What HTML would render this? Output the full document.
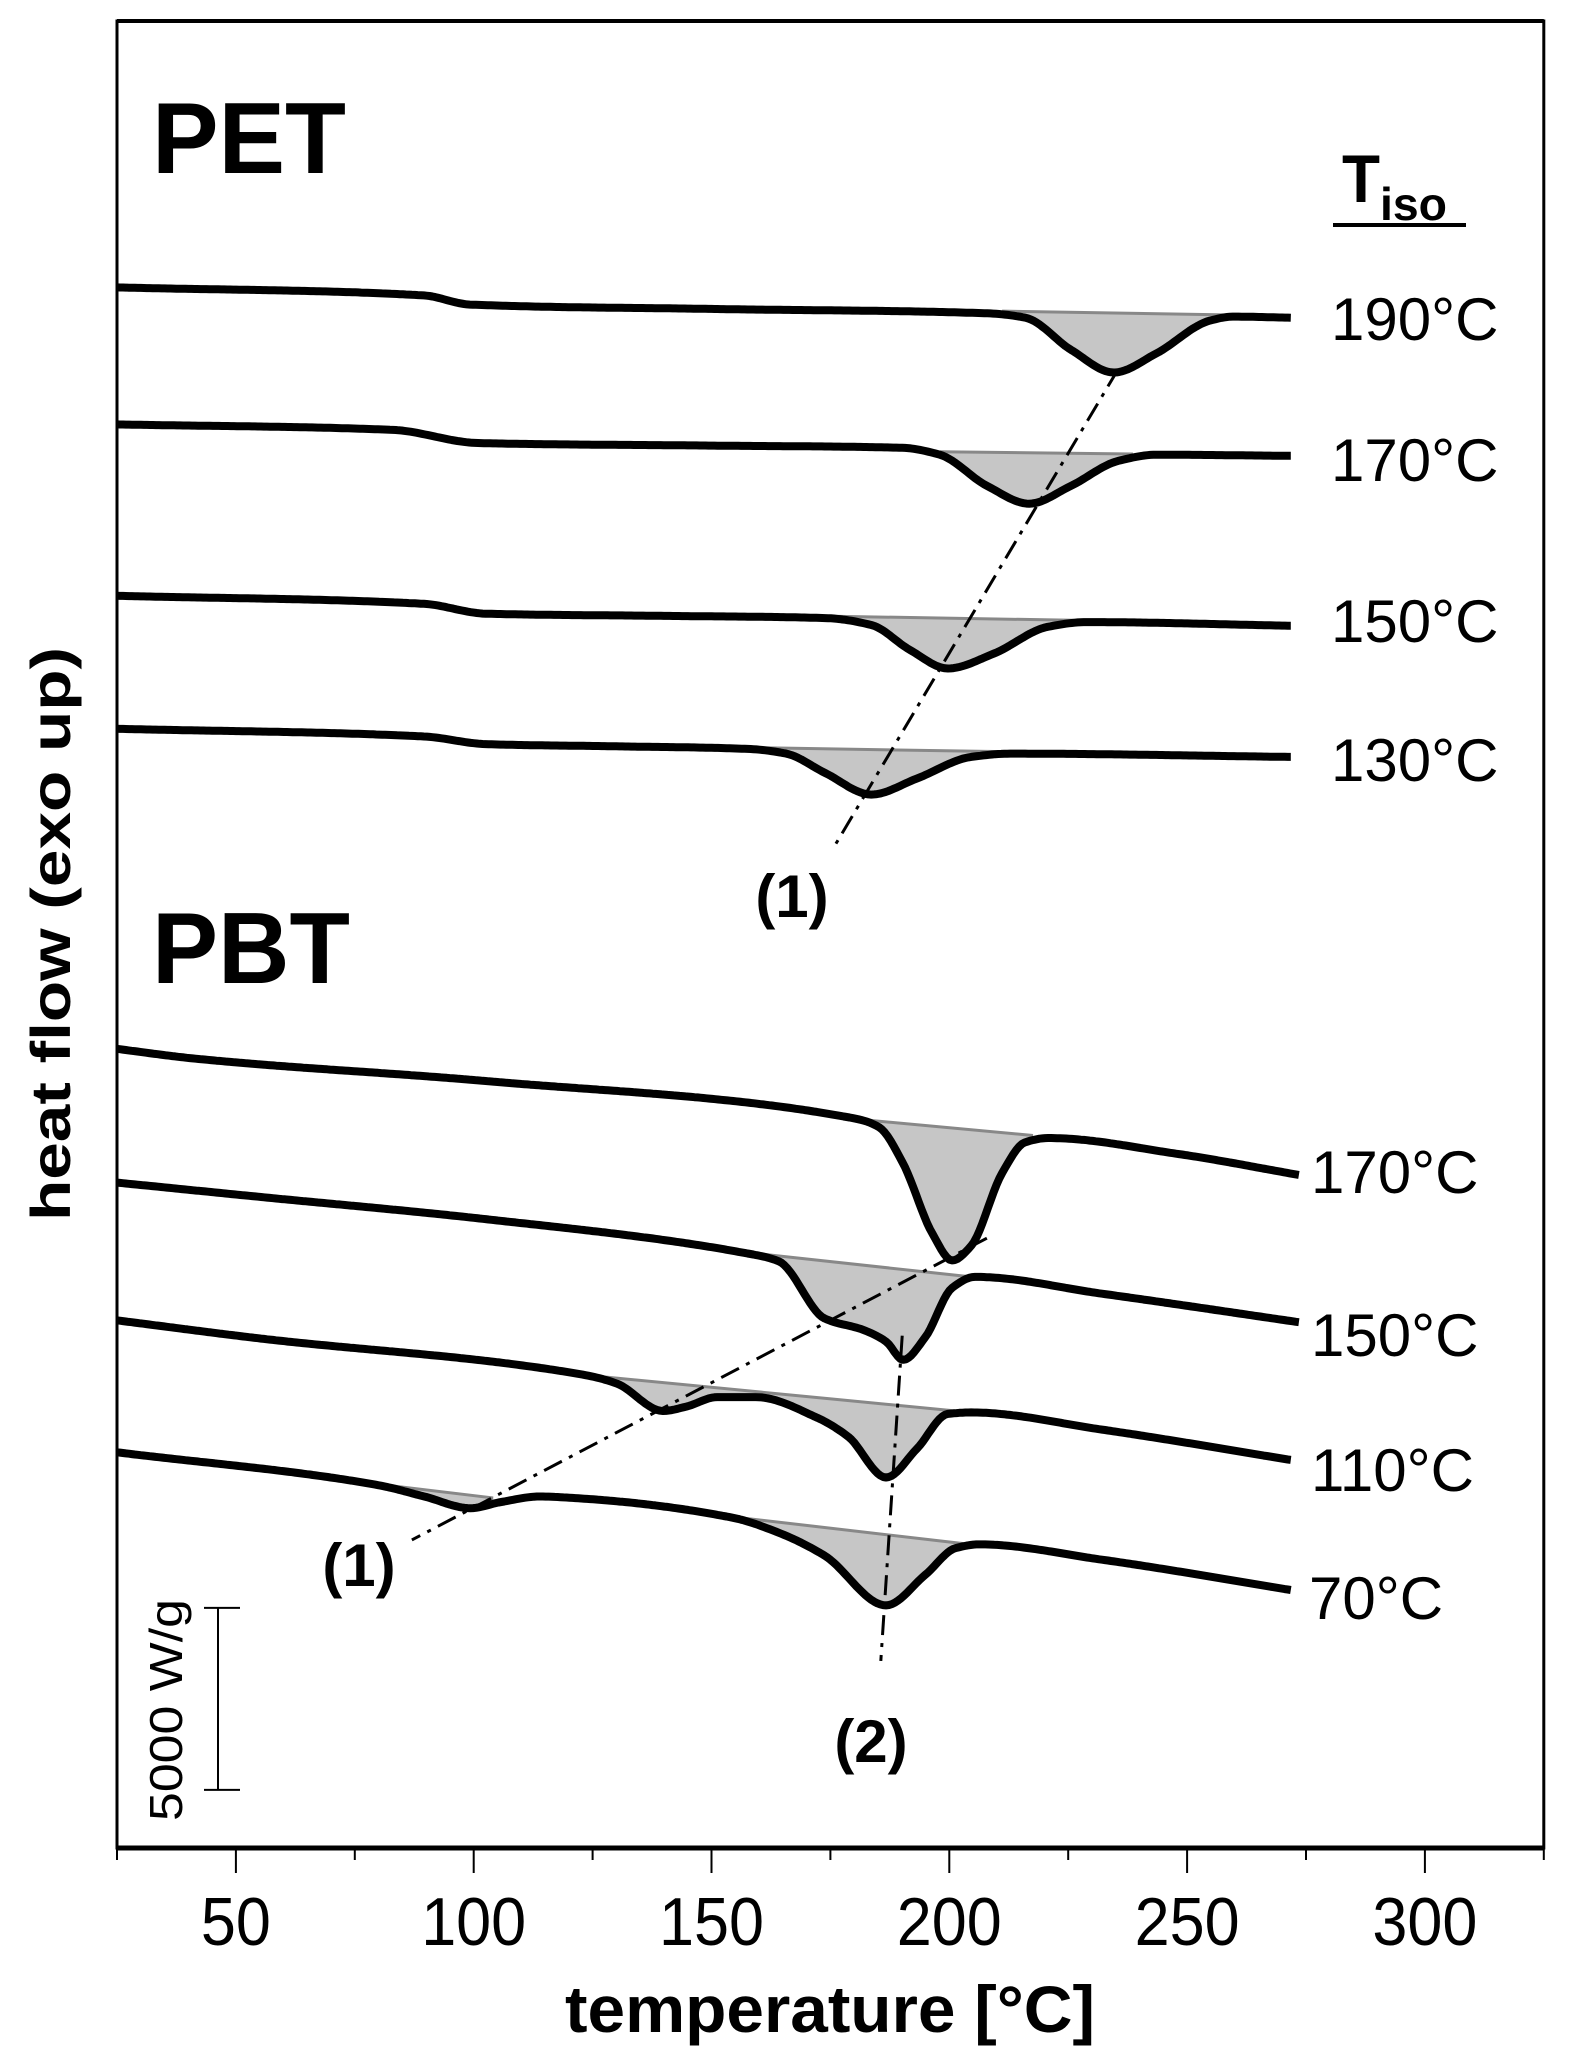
<!DOCTYPE html>
<html><head><meta charset="utf-8"><style>
html,body{margin:0;padding:0;background:#fff;}
svg{display:block;font-family:"Liberation Sans",Arial,sans-serif;}
</style></head><body>
<svg id="chart" width="1569" height="2070" viewBox="0 0 1569 2070" xmlns="http://www.w3.org/2000/svg">
<rect x="0" y="0" width="1569" height="2070" fill="#fff"/>
<g id="plot"></g>
<g id="labels">
<text x="152" y="173" font-size="101" font-weight="bold" textLength="194" lengthAdjust="spacingAndGlyphs">PET</text>
<text x="152" y="983" font-size="101" font-weight="bold" textLength="198" lengthAdjust="spacingAndGlyphs">PBT</text>
<text x="1342" y="202" font-size="68" font-weight="bold" textLength="38" lengthAdjust="spacingAndGlyphs">T</text>
<text x="1380" y="220" font-size="46" font-weight="bold" textLength="67" lengthAdjust="spacingAndGlyphs">iso</text>
<line x1="1333" y1="225" x2="1466" y2="225" stroke="#000" stroke-width="4"/>
<text x="565" y="2032" font-size="66" font-weight="bold" textLength="530" lengthAdjust="spacingAndGlyphs">temperature [°C]</text>
<text transform="translate(70,934) rotate(-90)" text-anchor="middle" font-size="56" font-weight="bold" textLength="574" lengthAdjust="spacingAndGlyphs">heat flow (exo up)</text>
<text transform="translate(182,1710) rotate(-90)" text-anchor="middle" font-size="46" textLength="222" lengthAdjust="spacingAndGlyphs">5000 W/g</text>
</g>
</svg>
<script>
// axis domains
const xDomain = [25, 325];
const yDomain = [0, 50]; // kW/g (arbitrary offset)
const xTicks = [50, 100, 150, 200, 250, 300];
const xMinorTicks = [25, 75, 125, 175, 225, 275, 325];
const xTickLabels = ["50", "100", "150", "200", "250", "300"];

// PET curves: temperature and heat-flow values
const pet190T = [25, 89.5, 99.2, 150, 208, 216, 225.6, 234.6, 243.5, 254.8, 259.6, 271.8];
const pet190V = [42.71, 42.49, 42.24, 42.12, 42.00, 41.88, 41.00, 40.38, 40.90, 41.80, 41.91, 41.88];
const pet190Base = [211.1, 42.06, 261.3, 41.95];
const pet170T = [25, 83.0, 100.9, 150, 190.1, 198.0, 207.9, 216.8, 225.6, 235.5, 243.5, 271.8];
const pet170V = [38.96, 38.81, 38.45, 38.38, 38.32, 38.13, 37.28, 36.79, 37.28, 37.96, 38.13, 38.10];
const pet170Base = [198.0, 38.21, 238.6, 38.15];
const pet150T = [25, 89.5, 102.5, 140, 173.9, 183.6, 191.7, 199.7, 209.4, 220.7, 228.9, 271.8];
const pet150V = [34.27, 34.05, 33.78, 33.72, 33.66, 33.47, 32.79, 32.28, 32.69, 33.42, 33.55, 33.45];
const pet150Base = [175.4, 33.71, 230.6, 33.59];
const pet130T = [25, 89.5, 102.5, 130, 157.6, 165.7, 173.9, 183.6, 193.2, 204.6, 212.8, 271.8];
const pet130V = [30.63, 30.42, 30.21, 30.15, 30.08, 29.95, 29.42, 28.83, 29.27, 29.86, 29.95, 29.86];
const pet130Base = [160.8, 30.11, 212.8, 30.00];

// PBT curves
const pbt170T = [25, 40.9, 102.5, 180.3, 185.2, 190.1, 196.5, 200.6, 204.6, 211.1, 215.9, 220.8, 248.3, 273.5];
const pbt170V = [21.87, 21.61, 20.99, 19.96, 19.73, 18.78, 16.80, 16.08, 16.48, 18.47, 19.31, 19.43, 18.99, 18.42];
const pbt170Base = [181.9, 19.93, 217.6, 19.50];
const pbt150T = [25, 53.4, 102.5, 157.6, 164.1, 173.8, 181.9, 186.7, 190.3, 194.9, 200.6, 205.4, 232.1, 273.5];
const pbt150V = [18.21, 17.84, 17.21, 16.27, 16.06, 14.49, 14.18, 13.86, 13.36, 13.97, 15.33, 15.63, 15.17, 14.39];
const pbt150Base = [160.0, 16.26, 204.6, 15.63];
const pbt110T = [25, 53.4, 123.5, 130.1, 139.8, 144.7, 151.2, 159.3, 172.3, 178.8, 186.7, 193.2, 199.7, 204.6, 232.1, 271.8];
const pbt110V = [14.44, 13.97, 12.94, 12.71, 11.96, 12.08, 12.34, 12.34, 11.77, 11.25, 10.14, 10.93, 11.88, 11.92, 11.45, 10.62];
const pbt110Base = [125.2, 12.92, 201.4, 11.96];
const pbt70T = [25, 79.9, 89.6, 99.3, 105.8, 113.9, 122.0, 154.4, 164.1, 173.8, 186.7, 194.9, 201.4, 206.3, 232.1, 271.8];
const pbt70V = [10.83, 9.93, 9.62, 9.30, 9.47, 9.62, 9.57, 9.04, 8.63, 8.00, 6.64, 7.47, 8.21, 8.31, 7.89, 7.06];
const pbt70BaseA = [79.8, 9.96, 104.1, 9.58];
const pbt70BaseB = [156.0, 9.04, 203.0, 8.33];

// guide lines (dash-dot): [T1, V1, T2, V2]
const petGuide1 = [235.5, 40.47, 176.0, 27.45];
const pbtGuide1 = [207.9, 16.69, 87.0, 8.43];
const pbtGuide2 = [190.1, 14.02, 185.6, 5.12];
const scaleBar = [1.59, 6.57]; // 5000 W/g span

const curveLabels = ["190°C", "170°C", "150°C", "130°C", "170°C", "150°C", "110°C", "70°C"];

const L = 117, R = 1543.8, B = 1848, T0 = 21;
const sx = t => L + (t - xDomain[0]) / (xDomain[1] - xDomain[0]) * (R - L);
const sy = v => B - (v - yDomain[0]) / (yDomain[1] - yDomain[0]) * (B - T0);
const NS = 'http://www.w3.org/2000/svg';
const plot = document.getElementById('plot');
function mk(tag, attrs) { const e = document.createElementNS(NS, tag); for (const k in attrs) e.setAttribute(k, attrs[k]); plot.appendChild(e); return e; }

// monotone cubic interpolation (no overshoot)
function smooth(ts, vs) {
  const x = ts.map(sx), y = vs.map(sy), n = x.length;
  const d = [], m = new Array(n);
  for (let i = 0; i < n - 1; i++) d.push((y[i + 1] - y[i]) / (x[i + 1] - x[i]));
  m[0] = d[0]; m[n - 1] = d[n - 2];
  for (let i = 1; i < n - 1; i++) {
    if (d[i - 1] * d[i] <= 0) m[i] = 0;
    else {
      const h0 = x[i] - x[i - 1], h1 = x[i + 1] - x[i];
      const w1 = 2 * h1 + h0, w2 = h1 + 2 * h0;
      m[i] = (w1 + w2) / (w1 / d[i - 1] + w2 / d[i]);
    }
  }
  const out = [];
  for (let i = 0; i < n - 1; i++) {
    const h = x[i + 1] - x[i];
    const steps = Math.max(4, Math.ceil(h / 3));
    for (let s = 0; s < steps; s++) {
      const u = s / steps, u2 = u * u, u3 = u2 * u;
      const h00 = 2 * u3 - 3 * u2 + 1, h10 = u3 - 2 * u2 + u, h01 = -2 * u3 + 3 * u2, h11 = u3 - u2;
      out.push([x[i] + u * h, h00 * y[i] + h10 * h * m[i] + h01 * y[i + 1] + h11 * h * m[i + 1]]);
    }
  }
  out.push([x[n - 1], y[n - 1]]);
  return out;
}
function drawFill(pts, base, name) {
  const x1 = sx(base[0]), x2 = sx(base[2]);
  const seg = pts.filter(q => q[0] >= x1 && q[0] <= x2);
  let d = 'M' + x1 + ',' + sy(base[1]);
  seg.forEach(q => d += 'L' + q[0].toFixed(1) + ',' + q[1].toFixed(1));
  d += 'L' + x2 + ',' + sy(base[3]) + 'Z';
  const f = mk('path', { d: d, fill: '#c6c6c6', stroke: 'none' });
  
  
  const bl = mk('line', { x1: x1, y1: sy(base[1]), x2: x2, y2: sy(base[3]), stroke: '#888', 'stroke-width': 3 });
  
  
}
function drawCurve(ts, vs, bases, name) {
  const pts = smooth(ts, vs);
  bases.forEach(b => drawFill(pts, b, name));
  const d = 'M' + pts.map(q => q[0].toFixed(1) + ',' + q[1].toFixed(1)).join('L');
  const c = mk('path', { d: d, fill: 'none', stroke: '#000', 'stroke-width': 8, 'stroke-linejoin': 'round' });
  
  
}
drawCurve(pet190T, pet190V, [pet190Base], 'pet-190');
drawCurve(pet170T, pet170V, [pet170Base], 'pet-170');
drawCurve(pet150T, pet150V, [pet150Base], 'pet-150');
drawCurve(pet130T, pet130V, [pet130Base], 'pet-130');
drawCurve(pbt170T, pbt170V, [pbt170Base], 'pbt-170');
drawCurve(pbt150T, pbt150V, [pbt150Base], 'pbt-150');
drawCurve(pbt110T, pbt110V, [pbt110Base], 'pbt-110');
drawCurve(pbt70T, pbt70V, [pbt70BaseA, pbt70BaseB], 'pbt-70');

function guide(g, name) {
  const l = mk('line', { x1: sx(g[0]), y1: sy(g[1]), x2: sx(g[2]), y2: sy(g[3]), stroke: '#000', 'stroke-width': 3, 'stroke-dasharray': '20 8 4 8' });
  
  
}
guide(petGuide1, 'pet-guide-1');
guide(pbtGuide1, 'pbt-guide-1');
guide(pbtGuide2, 'pbt-guide-2');

// frame
const fr = mk('rect', { x: L, y: T0, width: R - L, height: B - T0, fill: 'none', stroke: '#000', 'stroke-width': 3 });


const xa = mk('line', { x1: L, y1: B, x2: R, y2: B, stroke: '#000', 'stroke-width': 5 });


const ta = mk('line', { x1: L, y1: T0, x2: R, y2: T0, stroke: '#000', 'stroke-width': 4 });



xTicks.forEach((t, i) => {
  const tk = mk('line', { x1: sx(t), y1: B, x2: sx(t), y2: B + 25, stroke: '#000', 'stroke-width': 2 });
  
  
  const lb = mk('text', { x: sx(t), y: 1945, 'text-anchor': 'middle', 'font-size': 68, textLength: xTickLabels[i].length * 35, lengthAdjust: 'spacingAndGlyphs' });
  lb.textContent = xTickLabels[i];
  
  
});
xMinorTicks.forEach(t => {
  const tk = mk('line', { x1: sx(t), y1: B, x2: sx(t), y2: B + 12, stroke: '#000', 'stroke-width': 2 });
  
  
});

// scale bar
const sbx = 218;
const sb = mk('line', { x1: sbx, y1: sy(scaleBar[0]), x2: sbx, y2: sy(scaleBar[1]), stroke: '#000', 'stroke-width': 2 });


scaleBar.forEach(v => {
  const c = mk('line', { x1: sbx - 14, y1: sy(v), x2: sbx + 22, y2: sy(v), stroke: '#000', 'stroke-width': 2 });
  
  
});

// right-hand labels
const labelPos = [[1331, 340], [1331, 481], [1331, 642], [1331, 781], [1311, 1193], [1311, 1356], [1311, 1491], [1309, 1619]];
curveLabels.forEach((s, i) => {
  const t = mk('text', { x: labelPos[i][0], y: labelPos[i][1], 'font-size': 60 });
  t.textContent = s;
  
  
});
[[792, 917, '(1)'], [359, 1586, '(1)'], [871, 1762, '(2)']].forEach(a => {
  const t = mk('text', { x: a[0], y: a[1], 'font-size': 60, 'font-weight': 'bold', 'text-anchor': 'middle' });
  t.textContent = a[2];
  
  
});
</script>
</body></html>
